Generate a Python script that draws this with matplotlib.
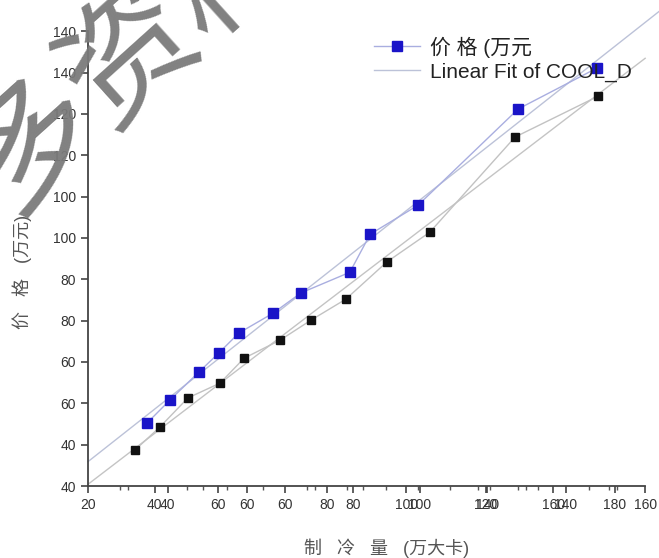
import numpy as np
import matplotlib
matplotlib.use("Agg")
import matplotlib.pyplot as plt

plt.rcParams['font.family'] = ['Liberation Sans', 'Noto Sans CJK SC', 'DejaVu Sans']

# blue series (price) and black series
blue_x = [34.8, 40.6, 47.9, 52.9, 57.9, 66.5, 73.5, 85.8, 90.9, 102.9, 128.1, 147.9]
blue_y = [55.2, 60.8, 67.6, 72.2, 77.0, 81.8, 86.7, 91.7, 100.9, 107.9, 131.2, 141.1]
black_x = [31.8, 38.1, 45.1, 53.2, 59.2, 68.3, 76.0, 84.8, 95.1, 105.9, 127.3, 148.2]
black_y = [48.7, 54.3, 61.3, 64.9, 70.9, 75.3, 80.1, 85.2, 94.2, 101.4, 124.4, 134.3]

# tick labels (two overlaid axes in the scan)
y_ticks = [40, 50, 60, 70, 80, 90, 100, 110, 120, 130, 140, 150]
y_labels = ['40', '40', '60', '60', '80', '80', '100', '100', '120', '120', '140', '140']
x_ticks_a = [20, 40, 60, 80, 100, 120, 140, 160]
x_ticks_b = [36.8, 52.7, 69.5, 86.6, 103.4, 120.3, 136.9, 152.4]
x_labels_b = ['40', '60', '60', '80', '100', '140', '160', '180']
x_minor = [28, 30, 45, 49, 55, 64, 75, 77, 85, 89, 95, 103, 111, 118, 121,
           128, 130, 133, 140, 146, 151, 153]

fig = plt.figure(figsize=(6.59, 5.58), dpi=100)
ax = fig.add_axes([0.1335, 0.129, 0.8455, 0.815])

ax.plot(blue_x, blue_y, color='#a9aee0', lw=1.0, marker='s', ms=7,
        mfc='#1a14c8', mec='#1a14c8', label='价 格 (万元', zorder=3)
ax.plot(black_x, black_y, color='#c2c2c2', lw=1.0, marker='s', ms=6,
        mfc='#111111', mec='#111111', zorder=3)

# linear fits
kb = np.polyfit(blue_x, blue_y, 1)
kk = np.polyfit(black_x, black_y, 1)
xf1 = np.array([20, 163.5])
xf2 = np.array([20, 160])
ax.plot(xf1, np.polyval(kb, xf1), color='#bcc2d8', lw=1.0, clip_on=False,
        label='Linear Fit of COOL_D', zorder=2)
ax.plot(xf2, np.polyval(kk, xf2), color='#c4c4c4', lw=1.0, clip_on=False, zorder=2)

ax.set_xlim(20, 160)
ax.set_ylim(40, 150)
for s in ['top', 'right']:
    ax.spines[s].set_visible(False)
for s in ['left', 'bottom']:
    ax.spines[s].set_color('#444444')
    ax.spines[s].set_linewidth(1.3)

ax.set_yticks(y_ticks)
ax.set_yticklabels(y_labels)
ax.set_xticks(x_ticks_a + x_ticks_b)
ax.set_xticklabels([str(v) for v in x_ticks_a] + x_labels_b)
ax.set_xticks(x_minor, minor=True)
ax.tick_params(axis='both', which='major', direction='out', length=5, width=1.2,
               color='#444444', labelsize=10, labelcolor='#333333')
ax.tick_params(axis='x', which='minor', direction='out', length=3, width=1.0, color='#555555')
ax.tick_params(axis='y', which='minor', left=False)

ax.set_xlabel('制   冷   量   (万大卡)', fontsize=13, color='#555555')
ax.set_ylabel('价   格   (万元)', fontsize=13, color='#555555')
ax.xaxis.set_label_coords(0.535, -0.115)
ax.yaxis.set_label_coords(-0.1, 0.47)

ax.legend(loc='upper left', bbox_to_anchor=(0.48, 1.03), frameon=False,
          fontsize=15, handlelength=2.2, labelspacing=0.25, handletextpad=0.5,
          labelcolor='#222222')

# watermark from the scan
fig.text(0.2, 0.9, '多资料', fontsize=95, color='#7a7a7a', rotation=42,
         ha='center', va='center', alpha=0.95, zorder=10)

fig.savefig('out.png', dpi=100)
